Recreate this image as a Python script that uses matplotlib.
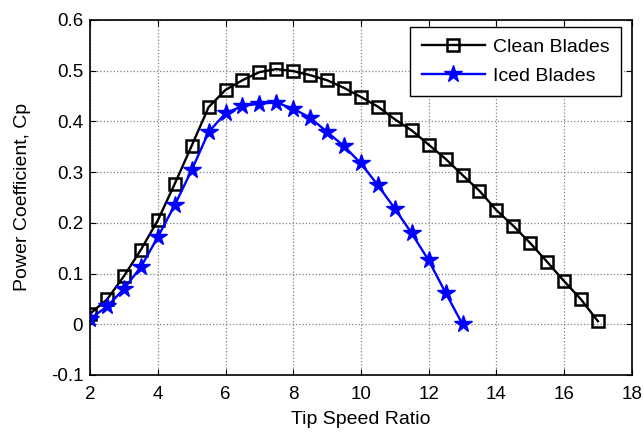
import numpy as np
import matplotlib.pyplot as plt

plt.rcParams['font.family'] = ['Liberation Sans', 'DejaVu Sans']

# tip speed ratio values
tsr_clean = [2, 2.5, 3, 3.5, 4, 4.5, 5, 5.5, 6, 6.5, 7, 7.5, 8, 8.5, 9, 9.5,
             10, 10.5, 11, 11.5, 12, 12.5, 13, 13.5, 14, 14.5, 15, 15.5, 16, 16.5, 17]
cp_clean = [0.021, 0.049, 0.095, 0.147, 0.205, 0.277, 0.352, 0.428, 0.462, 0.481,
            0.497, 0.503, 0.499, 0.491, 0.481, 0.466, 0.448, 0.429, 0.404, 0.382,
            0.354, 0.326, 0.294, 0.263, 0.225, 0.194, 0.160, 0.123, 0.085, 0.049, 0.006]

tsr_iced = [2, 2.5, 3, 3.5, 4, 4.5, 5, 5.5, 6, 6.5, 7, 7.5, 8, 8.5, 9, 9.5,
            10, 10.5, 11, 11.5, 12, 12.5, 13]
cp_iced = [0.011, 0.035, 0.070, 0.113, 0.172, 0.235, 0.304, 0.379, 0.416, 0.430,
           0.435, 0.437, 0.425, 0.407, 0.379, 0.351, 0.317, 0.274, 0.228, 0.179,
           0.126, 0.062, 0.0]

fig = plt.figure(figsize=(6.44, 4.32), dpi=100)
ax = fig.add_axes([0.140, 0.132, 0.841, 0.822])

ax.plot(tsr_clean, cp_clean, color='black', lw=1.7, marker='s', markersize=9,
        markerfacecolor='none', markeredgewidth=1.8, label='Clean Blades')
ax.plot(tsr_iced, cp_iced, color='blue', lw=1.7, marker='*', markersize=13,
        markeredgewidth=1.0, label='Iced Blades')

ax.set_xlim(2, 18)
ax.set_ylim(-0.1, 0.6)
ax.set_xticks(np.arange(2, 19, 2))
ax.set_yticks(np.arange(-0.1, 0.61, 0.1))
ax.set_yticklabels(['-0.1', '0', '0.1', '0.2', '0.3', '0.4', '0.5', '0.6'])

ax.grid(True, color='gray', linestyle=':', linewidth=0.9)
ax.tick_params(direction='in', top=True, right=True, labelsize=13.5, length=4)
ax.tick_params(axis='x', pad=8)
ax.tick_params(axis='y', pad=5)
for s in ax.spines.values():
    s.set_linewidth(1.2)

ax.set_xlabel('Tip Speed Ratio', fontsize=14, labelpad=6)
ax.set_ylabel('Power Coefficient, Cp', fontsize=14, labelpad=14)

leg = ax.legend(loc='upper right', bbox_to_anchor=(0.98, 0.98), borderaxespad=0,
                fontsize=14, fancybox=False, framealpha=1, edgecolor='black',
                handlelength=3.25, borderpad=0.6, labelspacing=0.55, handletextpad=0.4)
leg.get_frame().set_linewidth(1.0)

fig.savefig('out.png', dpi=100)
